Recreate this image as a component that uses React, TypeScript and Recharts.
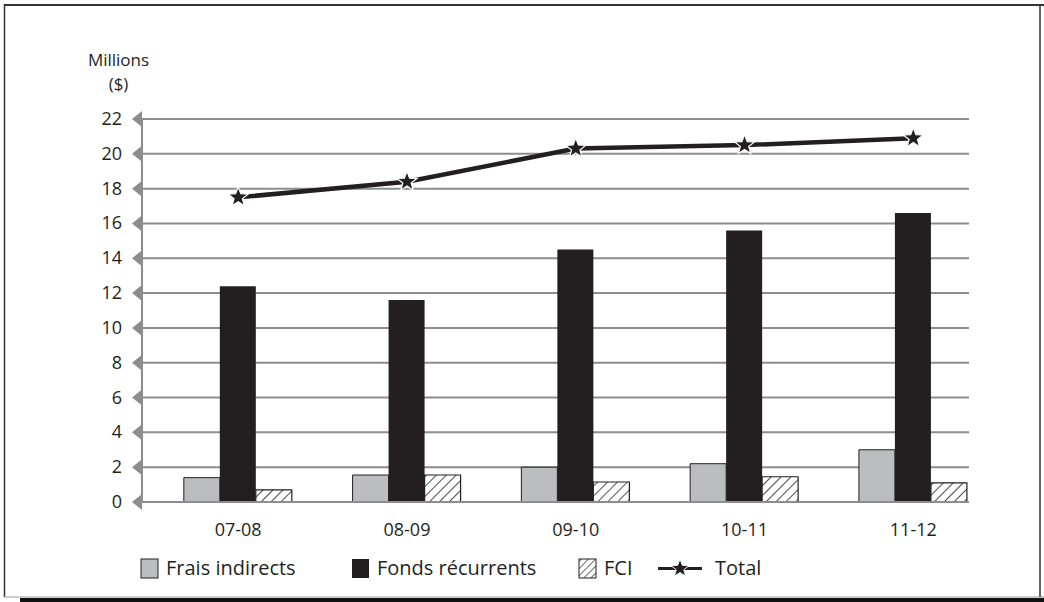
import React from 'react';
import { ComposedChart, Bar, Line, XAxis, YAxis, CartesianGrid, Legend } from 'recharts';

const periods = ['07-08', '08-09', '09-10', '10-11', '11-12'];
const fraisIndirects = [1.4, 1.55, 2.0, 2.2, 3.0];
const fondsRecurrents = [12.4, 11.6, 14.5, 15.6, 16.6];
const fci = [0.7, 1.55, 1.15, 1.45, 1.1];
const total = [17.5, 18.4, 20.3, 20.5, 20.9];
const yTicks = [0, 2, 4, 6, 8, 10, 12, 14, 16, 18, 20, 22];
const xTicks = [0, 1, 2, 3, 4];

const data = periods.map((p, i) => ({
  idx: i,
  period: p,
  frais: fraisIndirects[i],
  fonds: fondsRecurrents[i],
  fci: fci[i],
  total: total[i],
}));

const INK = '#231f20';
const GRID = '#8d8d8d';
const GREY_FILL = '#bcbdc0';
const FONT = '"Open Sans", sans-serif';

function starPath(cx: number, cy: number, outer: number, inner: number) {
  const pts: string[] = [];
  for (let i = 0; i < 10; i++) {
    const r = i % 2 === 0 ? outer : inner;
    const a = -Math.PI / 2 + (i * Math.PI) / 5;
    pts.push(`${(cx + r * Math.cos(a)).toFixed(2)},${(cy + r * Math.sin(a)).toFixed(2)}`);
  }
  return `M${pts.join('L')}Z`;
}

const StarDot = (props: any) => {
  const { cx, cy } = props;
  if (cx == null || cy == null) return null;
  return <path d={starPath(cx, cy, 10.5, 4.4)} fill={INK} stroke="#fff" strokeWidth={1.2} />;
};

const YTick = (props: any) => {
  const { x, y, payload } = props;
  return (
    <g>
      <path d={`M${x - 10},${y} L${x},${y - 8} L${x},${y + 8} Z`} fill={GRID} />
      <text x={x - 20} y={y + 6} textAnchor="end" fill={INK} fontSize={18} fontFamily={FONT}>
        {payload.value}
      </text>
    </g>
  );
};

const XTick = (props: any) => {
  const { x, y, payload } = props;
  return (
    <text x={x} y={y + 26} textAnchor="middle" fill={INK} fontSize={18} fontFamily={FONT}>
      {periods[payload.value]}
    </text>
  );
};

const legendItems = [
  { label: 'Frais indirects', kind: 'grey', left: 141 },
  { label: 'Fonds récurrents', kind: 'black', left: 352 },
  { label: 'FCI', kind: 'hatch', left: 579 },
  { label: 'Total', kind: 'line', left: 658 },
];

const LegendContent = () => (
  <svg width={1044} height={32} style={{ display: 'block' }}>
    <defs>
      <pattern id="hatchLegend" patternUnits="userSpaceOnUse" width={5} height={5} patternTransform="rotate(45)">
        <rect width={5} height={5} fill="#fff" />
        <line x1={0} y1={0} x2={0} y2={5} stroke={INK} strokeWidth={1.3} />
      </pattern>
    </defs>
    {legendItems.map((it) => {
      const sx = it.left;
      let swatch: React.ReactNode;
      let textX = sx + 25;
      if (it.kind === 'grey') {
        swatch = <rect x={sx} y={6} width={17} height={19} fill={GREY_FILL} stroke={INK} strokeWidth={1} />;
      } else if (it.kind === 'black') {
        swatch = <rect x={sx} y={6} width={17} height={19} fill={INK} />;
      } else if (it.kind === 'hatch') {
        swatch = <rect x={sx} y={6} width={17} height={19} fill="url(#hatchLegend)" stroke={INK} strokeWidth={1} />;
      } else {
        swatch = (
          <g>
            <line x1={sx} y1={15.5} x2={sx + 44} y2={15.5} stroke={INK} strokeWidth={3} />
            <path d={starPath(sx + 22, 15.5, 9.5, 4)} fill={INK} stroke="#fff" strokeWidth={1} />
          </g>
        );
        textX = sx + 57;
      }
      return (
        <g key={it.label}>
          {swatch}
          <text x={textX} y={22} fill={INK} fontSize={20} fontFamily={FONT}>
            {it.label}
          </text>
        </g>
      );
    })}
  </svg>
);

const UnitLabel = () => (
  <g>
    <text x={118.5} y={66} textAnchor="middle" fill={INK} fontSize={17} fontFamily={FONT}>
      Millions
    </text>
    <text x={118.5} y={90} textAnchor="middle" fill={INK} fontSize={17} fontFamily={FONT}>
      ($)
    </text>
  </g>
);

export default function App() {
  return (
    <div style={{ position: 'absolute', left: 0, top: 0, width: 1044, height: 602, background: '#fff', overflow: 'hidden' }}>
      <svg width={1044} height={602} style={{ position: 'absolute', left: 0, top: 0 }}>
        <line x1={4} y1={5} x2={1044} y2={5} stroke="#333" strokeWidth={2} />
        <line x1={4.5} y1={4} x2={4.5} y2={597} stroke="#333" strokeWidth={1.5} />
        <line x1={4} y1={597} x2={1044} y2={597} stroke="#999" strokeWidth={1} />
        <rect x={20} y={598} width={1024} height={4} fill="#111" />
        <line x1={1040} y1={4} x2={1040} y2={597} stroke="#333" strokeWidth={1.5} />
      </svg>
      <div style={{ position: 'absolute', left: 0, top: 0 }}>
        <ComposedChart
          width={1044}
          height={602}
          data={data}
          margin={{ top: 119, right: 75, bottom: 70, left: 82 }}
          barGap={0}
        >
          <defs>
            <pattern id="hatchBar" patternUnits="userSpaceOnUse" width={7} height={7} patternTransform="rotate(45)">
              <rect width={7} height={7} fill="#fff" />
              <line x1={0} y1={0} x2={0} y2={7} stroke={INK} strokeWidth={1.6} />
            </pattern>
          </defs>
          <CartesianGrid vertical={false} stroke={GRID} strokeWidth={2} />
          <XAxis
            type="number"
            dataKey="idx"
            domain={[-0.57, 4.33]}
            ticks={xTicks}
            allowDataOverflow
            tick={<XTick />}
            tickLine={false}
            axisLine={{ stroke: GRID, strokeWidth: 2 }}
            height={30}
            interval={0}
          />
          <YAxis
            type="number"
            domain={[0, 22]}
            ticks={yTicks}
            width={60}
            tick={<YTick />}
            tickLine={false}
            tickSize={0}
            tickMargin={0}
            axisLine={{ stroke: GRID, strokeWidth: 2 }}
            interval={0}
            label={<UnitLabel />}
          />
          <Bar dataKey="frais" name="Frais indirects" barSize={36} fill={GREY_FILL} stroke={INK} strokeWidth={1} isAnimationActive={false} />
          <Bar dataKey="fonds" name="Fonds récurrents" barSize={36} fill={INK} isAnimationActive={false} />
          <Bar dataKey="fci" name="FCI" barSize={36} fill="url(#hatchBar)" stroke={INK} strokeWidth={1.2} isAnimationActive={false} />
          <Line
            dataKey="total"
            name="Total"
            stroke={INK}
            strokeWidth={4.5}
            dot={<StarDot />}
            activeDot={false}
            isAnimationActive={false}
          />
          <Legend
            layout="horizontal"
            verticalAlign="middle"
            align="center"
            wrapperStyle={{ position: 'absolute', left: 0, top: 553, width: 1044 }}
            content={<LegendContent />}
          />
        </ComposedChart>
      </div>
    </div>
  );
}
